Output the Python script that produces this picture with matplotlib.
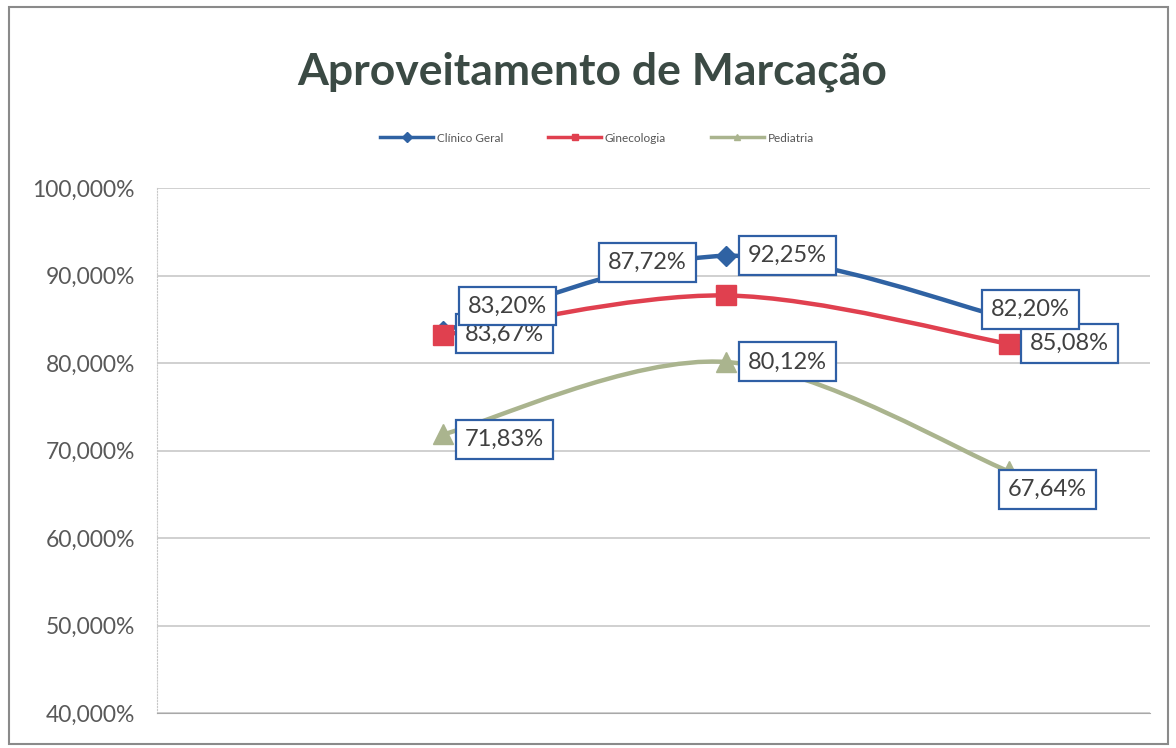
import matplotlib
matplotlib.use("Agg")
from matplotlib import pyplot as plt
from matplotlib.path import Path
from matplotlib.patches import PathPatch, Rectangle
from matplotlib.lines import Line2D
import numpy as np

plt.rcParams['font.family'] = ['Lato', 'DejaVu Sans']

title = 'Aproveitamento de Marcação'
series_names = ['Clínico Geral', 'Ginecologia', 'Pediatria']
clinico = [83.67, 92.25, 85.08]
gineco = [83.20, 87.72, 82.20]
pediatria = [71.83, 80.12, 67.64]
y_ticks = [40, 50, 60, 70, 80, 90, 100]

colors = ['#2f62a3', '#e0404f', '#aab48e']
markers = ['D', 's', '^']
msizes = [10, 14, 14]

# label offsets (pixels) relative to each point, per series
label_offsets = [
    [(62, -3), (62, 0), (61, -25)],
    [(65, 29), (-78, 33), (22, 34)],
    [(62, -5), (62, 0), (39, -18)],
]


def smooth_path(xs, ys):
    # Catmull-Rom style bezier through the points
    p = np.column_stack([xs, ys]).astype(float)
    n = len(p)
    verts = [p[0]]
    codes = [Path.MOVETO]
    for i in range(n - 1):
        prev = p[i - 1] if i > 0 else p[i]
        nxt = p[i + 2] if i + 2 < n else p[i + 1]
        c1 = p[i] + (p[i + 1] - prev) / 6
        c2 = p[i + 1] - (nxt - p[i]) / 6
        verts += [c1, c2, p[i + 1]]
        codes += [Path.CURVE4] * 3
    return Path(verts, codes)


fig = plt.figure(figsize=(11.76, 7.48), dpi=100)
fig.patches.append(Rectangle((0.008, 0.005), 0.985, 0.985, transform=fig.transFigure,
                             fill=False, edgecolor='#8a8a8a', linewidth=1.5))

ax = fig.add_axes([157 / 1176, 1 - 713 / 748, (1150 - 157) / 1176, (713 - 188) / 748])
x = np.arange(3)
data = [clinico, gineco, pediatria]

for vals, c, m, ms in zip(data, colors, markers, msizes):
    ax.add_patch(PathPatch(smooth_path(x, vals), fill=False, edgecolor=c,
                           linewidth=3.2, zorder=3, capstyle='round'))
    ax.plot(x, vals, linestyle='none', marker=m, markersize=ms, color=c, zorder=4)

# draw order keeps the 83,20% box on top of 83,67%
order = [(0, 0), (1, 0), (0, 1), (1, 1), (0, 2), (1, 2), (2, 0), (2, 1), (2, 2)]
for s, i in order:
    v = data[s][i]
    ax.annotate(f'{v:.2f}%'.replace('.', ','), xy=(x[i], v),
                xytext=label_offsets[s][i], textcoords='offset pixels',
                ha='center', va='center', fontsize=17, color='#404040', zorder=5,
                bbox=dict(boxstyle='square,pad=0.38', facecolor='white',
                          edgecolor='#2f5fa5', linewidth=1.6))

ax.set_xlim(-1.01, 2.5)
ax.set_ylim(40, 100)
ax.set_yticks(y_ticks)
ax.set_yticklabels([f'{v:.3f}%'.replace('.', ',') for v in y_ticks],
                   fontsize=16.5, color='#595959')
ax.tick_params(axis='y', length=0, pad=16)
ax.set_xticks([])
ax.grid(axis='y', color='#c4c4c4', linewidth=1.1)
ax.set_axisbelow(True)
for side in ['right', 'top']:
    ax.spines[side].set_visible(False)
ax.spines['left'].set_color('#c8c8c8')
ax.spines['left'].set_linestyle(':')
ax.spines['bottom'].set_color('#a8a8a8')

fig.text(592 / 1176, 1 - 72 / 748, title, ha='center', va='center',
         fontsize=32, fontweight='bold', color='#3b4a44')

handles = [Line2D([], [], color=c, marker=m, markersize=5, linewidth=2.5)
           for c, m in zip(colors, markers)]
fig.legend(handles, series_names, loc='center', bbox_to_anchor=(597 / 1176, 1 - 138 / 748),
           ncol=3, frameon=False, fontsize=8.5, labelcolor='#555555',
           handlelength=4.5, columnspacing=3.8, handletextpad=0.3)

fig.savefig('out.png', dpi=100)
